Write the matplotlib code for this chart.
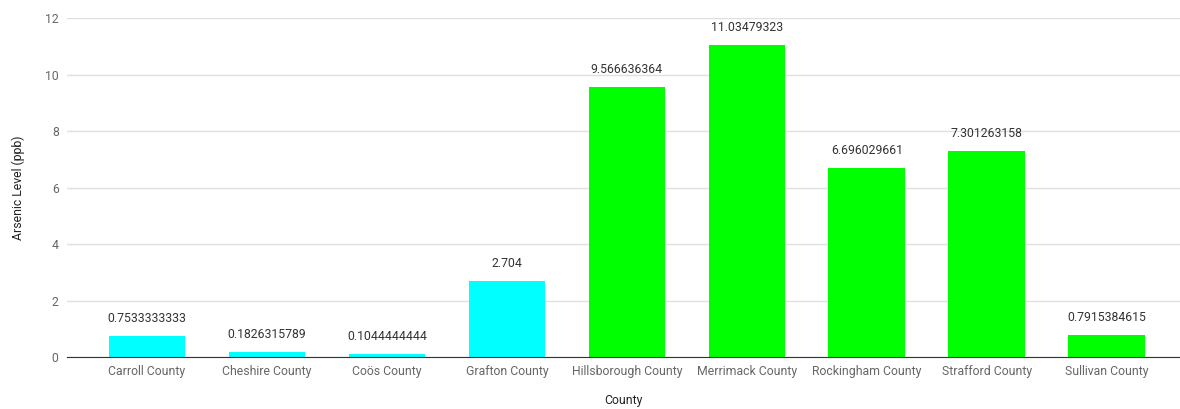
import matplotlib.pyplot as plt

counties = ["Carroll County", "Cheshire County", "Coös County", "Grafton County",
            "Hillsborough County", "Merrimack County", "Rockingham County",
            "Strafford County", "Sullivan County"]
arsenic = [0.7533333333, 0.1826315789, 0.1044444444, 2.704,
           9.566636364, 11.03479323, 6.696029661, 7.301263158, 0.7915384615]
labels = ["0.7533333333", "0.1826315789", "0.1044444444", "2.704",
          "9.566636364", "11.03479323", "6.696029661", "7.301263158", "0.7915384615"]
colors = ["#00ffff"] * 4 + ["#00ff00"] * 5

plt.rcParams['font.family'] = ['Roboto', 'DejaVu Sans']

fig = plt.figure(figsize=(11.8, 4.09), dpi=100)
ax = fig.add_axes([0.0568, 0.127, 0.9432, 0.829])

x = list(range(len(counties)))
bars = ax.bar(x, arsenic, width=0.64, color=colors, zorder=2)

for b, lab in zip(bars, labels):
    ax.annotate(lab, (b.get_x() + b.get_width() / 2, b.get_height()),
                xytext=(0, 8), textcoords='offset points',
                ha='center', va='bottom', fontsize=8.8, color='#333333')

ax.set_xlim(-0.667, 8.61)
ax.set_ylim(0, 12)
ax.set_yticks([0, 2, 4, 6, 8, 10, 12])
ax.set_xticks(x)
ax.set_xticklabels(counties)
ax.tick_params(axis='both', length=0, labelsize=8.8, labelcolor='#666666')
ax.tick_params(axis='x', pad=6)
ax.tick_params(axis='y', pad=6)

ax.grid(axis='y', color='#e0e0e0', linewidth=1, zorder=0)
for s in ['top', 'right', 'left']:
    ax.spines[s].set_visible(False)
ax.spines['bottom'].set_color('#333333')
ax.spines['bottom'].set_zorder(3)

ax.set_xlabel("County", fontsize=8.8, color='#222222', labelpad=11)
ax.set_ylabel("Arsenic Level (ppb)", fontsize=8.8, color='#222222', labelpad=14)

fig.savefig("out.png", dpi=100)
